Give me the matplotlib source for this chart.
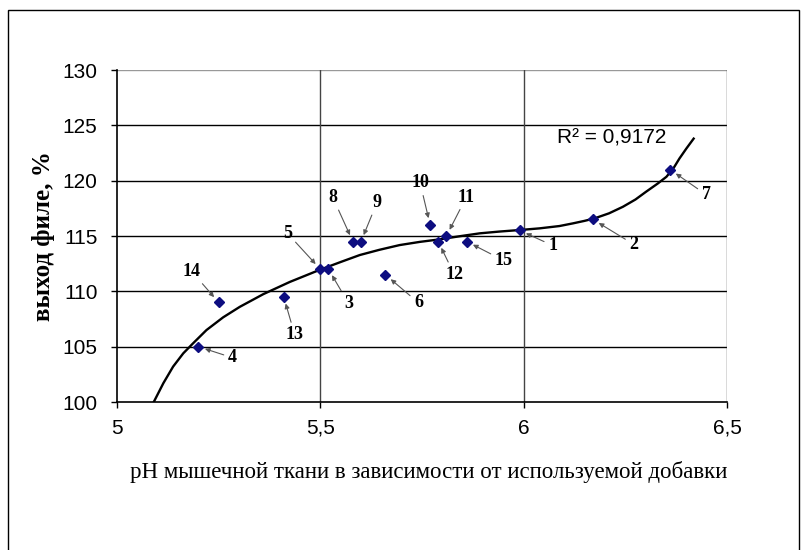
import numpy as np
import matplotlib
matplotlib.use('Agg')
import matplotlib.pyplot as plt
from matplotlib.patches import Rectangle

# pH of muscle tissue and fillet yield for each sample
sampleNo = ['1', '2', '3', '4', '5', '6', '7', '8', '9', '10', '11', '12', '13', '14', '15']
pH = [5.99, 6.17, 5.52, 5.20, 5.50, 5.66, 6.36, 5.58, 5.60, 5.77, 5.81, 5.79, 5.41, 5.25, 5.86]
yieldPct = [115.5, 116.5, 112.0, 105.0, 112.0, 111.5, 121.0, 114.5, 114.5, 116.0, 115.0, 114.5, 109.5, 109.0, 114.5]

# trend line
trendX = [5.089, 5.114, 5.138, 5.163, 5.187, 5.220, 5.261, 5.302, 5.360, 5.425, 5.499, 5.550, 5.597,
          5.645, 5.695, 5.745, 5.794, 5.843, 5.892, 5.940, 5.990, 6.039, 6.088, 6.121, 6.150, 6.174,
          6.210, 6.244, 6.275, 6.301, 6.330, 6.351, 6.368, 6.383, 6.400, 6.418]
trendY = [99.9, 101.7, 103.2, 104.4, 105.3, 106.5, 107.65, 108.6, 109.75, 110.85, 111.95, 112.65, 113.28,
          113.75, 114.18, 114.47, 114.7, 114.98, 115.24, 115.4, 115.54, 115.69, 115.9, 116.14, 116.37, 116.59,
          117.05, 117.64, 118.3, 119.0, 119.75, 120.35, 121.1, 122.0, 122.9, 123.8]

xTicks = [5, 5.5, 6, 6.5]
xTickLabels = ['5', '5,5', '6', '6,5']
yTicks = [100, 105, 110, 115, 120, 125, 130]
r2Text = 'R² = 0,9172'

# label offsets (pixels) relative to each point
labelOffsets = {'1': (33, -15), '2': (41, -25), '3': (20, -34), '4': (34, -11), '5': (-33, 36),
                '6': (33, -28), '7': (36, -25), '8': (-20, 44), '9': (16, 39), '10': (-10, 42),
                '11': (20, 39), '12': (16, -33), '13': (11, -38), '14': (-27, 31), '15': (37, -19)}

fig = plt.figure(figsize=(8.1, 5.5), dpi=100)
ax = fig.add_axes([117/810., 1-402/550., 610/810., 332/550.])

# frame round the whole picture
fig.patches.append(Rectangle((8/810., -0.02), 791/810., 1.02-10/550., transform=fig.transFigure,
                             fill=False, edgecolor='k', lw=1.0))

ax.plot(trendX, trendY, 'k', lw=1.7, zorder=3, solid_joinstyle='round')

ax.plot(pH, yieldPct, linestyle='none', marker='D', ms=5.5, color='#0d0d80', zorder=4)

for n in range(len(sampleNo)):
    ax.annotate(sampleNo[n], xy=(pH[n], yieldPct[n]), xytext=labelOffsets[sampleNo[n]],
                textcoords='offset pixels', ha='center', va='center',
                family='Liberation Serif', fontweight='bold', fontsize=13,
                arrowprops=dict(arrowstyle='-|>', color='#555555', lw=0.8,
                                shrinkA=1, shrinkB=5, mutation_scale=7))

ax.text(6.083, 123.9, r2Text, ha='left', va='center', family='Liberation Sans', fontsize=15)

ax.set_xlim(5, 6.5)
ax.set_ylim(100, 130)
ax.set_xticks(xTicks)
ax.set_xticklabels(xTickLabels)
ax.set_yticks(yTicks)
for lab in ax.get_xticklabels() + ax.get_yticklabels():
    lab.set_family('Liberation Sans')
    lab.set_fontsize(15)
ax.tick_params(direction='out', length=4, width=1, color='k')
ax.tick_params(axis='y', pad=10)
ax.tick_params(axis='x', pad=8)

for v in yTicks[1:-1]:
    ax.axhline(v, color='k', lw=1.0, zorder=1)
ax.axhline(130, color='#999999', lw=1.0, zorder=1)
for v in xTicks[1:]:
    ax.axvline(v, color='#444444', lw=1.0, zorder=1)
ax.spines['top'].set_visible(False)
ax.spines['right'].set_visible(False)
ax.spines['left'].set_linewidth(1.2)
ax.spines['bottom'].set_linewidth(1.2)

ax.set_ylabel('выход филе, %', family='Liberation Serif', fontweight='bold', fontsize=18)
ax.yaxis.set_label_coords((55-117)/610., 0.5)
ax.set_xlabel('pH мышечной ткани в зависимости от используемой добавки', family='Liberation Serif',
              fontsize=16.5)
ax.xaxis.label.set_va('center')
ax.xaxis.set_label_coords((429-117)/610., (402-472)/332.)

fig.savefig('out.png', dpi=100)
